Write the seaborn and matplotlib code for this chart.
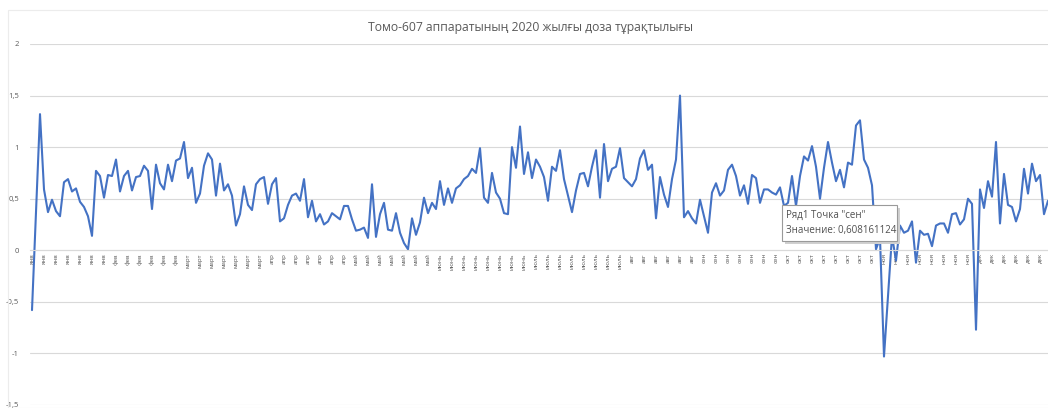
import matplotlib
matplotlib.use("Agg")
import matplotlib.pyplot as plt
from matplotlib.patches import Rectangle
import numpy as np
import seaborn as sns

title = "Томо-607 аппаратының 2020 жылғы доза тұрақтылығы"

months = ["янв", "фев", "март", "апр", "май", "июнь", "июль", "авг", "сен", "окт", "ноя", "дек"]
# number of shown labels per month (every 3rd point is labelled)
labels_per_month = [7, 6, 7, 7, 7, 8, 8, 6, 7, 8, 8, 6]

dose = [
    -0.58, 0.37, 1.32, 0.59, 0.37, 0.49, 0.38, 0.33, 0.66, 0.69,
    0.57, 0.60, 0.47, 0.42, 0.33, 0.14, 0.77, 0.72, 0.51, 0.73,
    0.72, 0.88, 0.57, 0.72, 0.77, 0.58, 0.71, 0.72, 0.82, 0.77,
    0.40, 0.83, 0.65, 0.59, 0.83, 0.67, 0.87, 0.89, 1.05, 0.70,
    0.80, 0.46, 0.55, 0.82, 0.94, 0.88, 0.53, 0.84, 0.58, 0.64,
    0.53, 0.24, 0.35, 0.62, 0.44, 0.39, 0.64, 0.69, 0.71, 0.45,
    0.64, 0.70, 0.28, 0.31, 0.44, 0.53, 0.55, 0.48, 0.69, 0.32,
    0.48, 0.28, 0.35, 0.25, 0.28, 0.36, 0.33, 0.30, 0.43, 0.43,
    0.30, 0.19, 0.20, 0.22, 0.12, 0.64, 0.13, 0.35, 0.46, 0.20,
    0.19, 0.36, 0.17, 0.07, 0.01, 0.31, 0.15, 0.27, 0.51, 0.36,
    0.46, 0.40, 0.67, 0.44, 0.60, 0.46, 0.60, 0.63, 0.69, 0.72,
    0.79, 0.75, 0.99, 0.51, 0.46, 0.75, 0.56, 0.50, 0.36, 0.35,
    1.00, 0.80, 1.20, 0.74, 0.95, 0.70, 0.88, 0.81, 0.71, 0.48,
    0.81, 0.77, 0.97, 0.69, 0.53, 0.37, 0.58, 0.74, 0.75, 0.62,
    0.81, 0.97, 0.51, 1.03, 0.67, 0.79, 0.81, 0.99, 0.70, 0.66,
    0.62, 0.69, 0.89, 0.97, 0.78, 0.83, 0.31, 0.71, 0.54, 0.42,
    0.69, 0.88, 1.50, 0.32, 0.38, 0.31, 0.26, 0.49, 0.33, 0.17,
    0.56, 0.65, 0.53, 0.58, 0.78, 0.83, 0.72, 0.53, 0.63, 0.45,
    0.73, 0.70, 0.46, 0.59, 0.59, 0.56, 0.54, 0.61, 0.43, 0.46,
    0.72, 0.43, 0.72, 0.91, 0.87, 1.01, 0.81, 0.50, 0.80, 1.05,
    0.85, 0.67, 0.78, 0.61, 0.85, 0.83, 1.21, 1.26, 0.88, 0.80,
    0.63, 0.01, 0.12, -1.03, -0.45, 0.14, -0.10, 0.24, 0.17, 0.19,
    0.28, -0.12, 0.19, 0.15, 0.16, 0.04, 0.24, 0.26, 0.26, 0.17,
    0.35, 0.36, 0.25, 0.30, 0.50, 0.45, -0.77, 0.59, 0.41, 0.67,
    0.52, 1.05, 0.26, 0.74, 0.44, 0.42, 0.28, 0.40, 0.79, 0.55,
    0.84, 0.67, 0.73, 0.35, 0.48,
]

y_ticks = [-1.5, -1, -0.5, 0, 0.5, 1, 1.5, 2]
y_tick_labels = ["-1,5", "-1", "-0,5", "0", "0,5", "1", "1,5", "2"]

tooltip = 'Ряд1 Точка "сен"\nЗначение: 0,608161124'

line_color = "#4472C4"
grid_color = "#d9d9d9"
text_color = "#595959"


def point_labels():
    out = []
    for m, n in zip(months, labels_per_month):
        out += [m] * (n * 3)
    return out[:len(dose)]


def main():
    sns.set_theme(style="white")
    plt.rcParams["font.family"] = ["Open Sans", "DejaVu Sans"]

    fig = plt.figure(figsize=(10.48, 4.08), dpi=100)
    ax = fig.add_axes([30 / 1048, 3 / 408, 1018 / 1048, 361 / 408])

    x = np.arange(len(dose))
    sns.lineplot(x=x, y=dose, ax=ax, color=line_color, linewidth=1.5)

    # spine position must be set before tick labels (it resets the ticks)
    for s in ["top", "right", "left"]:
        ax.spines[s].set_visible(False)
    ax.spines["bottom"].set_position(("data", 0))
    ax.spines["bottom"].set_color(grid_color)
    ax.spines["bottom"].set_linewidth(0.8)

    ax.set_ylim(-1.5, 2)
    ax.set_xlim(-0.5, len(dose) - 1)
    ax.set_yticks(y_ticks)
    ax.set_yticklabels(y_tick_labels, fontsize=5.5, color=text_color)
    ax.yaxis.grid(True, color=grid_color, linewidth=0.8)
    ax.set_axisbelow(True)

    labels = point_labels()
    ticks = x[::3]
    ax.set_xticks(ticks)
    ax.set_xticklabels([labels[i] for i in ticks], fontsize=4.4, color=text_color)
    ax.tick_params(axis="x", length=0, pad=2, labelrotation=90)
    ax.tick_params(axis="y", length=0, pad=8)
    ax.set_xlabel("")
    ax.set_ylabel("")

    fig.text(530 / 1048, 1 - 28 / 408, title, ha="center", va="center", fontsize=8.7, color=text_color)

    # chart area border
    fig.patches.append(Rectangle((8 / 1048, 0), 1, 1 - 10 / 408, transform=fig.transFigure,
                                 fill=False, edgecolor="#ececec", linewidth=0.8))

    # excel tooltip
    fig.patches.append(Rectangle((785 / 1048, 1 - 244 / 408), 115 / 1048, 36 / 408,
                                 transform=fig.transFigure, facecolor="#d0d0d0",
                                 edgecolor="none", zorder=5))
    fig.patches.append(Rectangle((782 / 1048, 1 - 241 / 408), 115 / 1048, 36 / 408,
                                 transform=fig.transFigure, facecolor="white",
                                 edgecolor="#9a9a9a", linewidth=0.8, zorder=6))
    fig.text(786 / 1048, 1 - 223 / 408, tooltip, ha="left", va="center", fontsize=7.0,
             color="#505050", linespacing=1.5, zorder=7)

    fig.savefig("out.png", dpi=100)


if __name__ == "__main__":
    main()
